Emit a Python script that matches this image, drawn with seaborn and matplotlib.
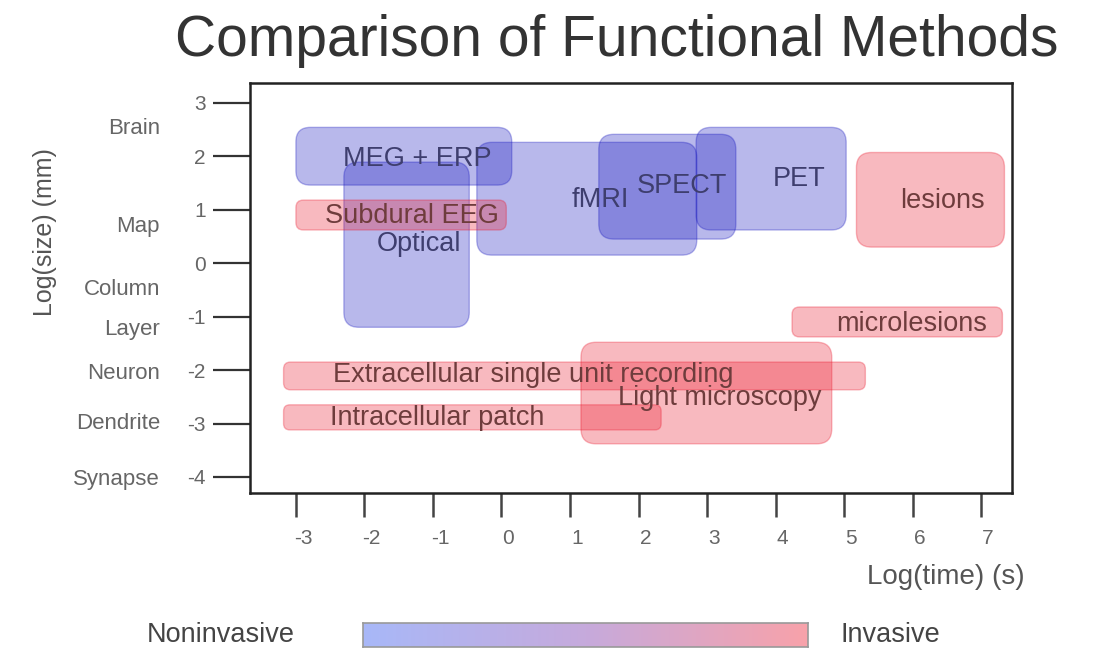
import numpy as np
import matplotlib
matplotlib.use("Agg")
import matplotlib.pyplot as plt
import matplotlib.transforms as mtransforms
import seaborn as sns
from matplotlib.patches import FancyBboxPatch

# ------------------------------------------------------------
# data (log10 time in s, log10 size in mm)
# ------------------------------------------------------------
methods = ["Extracellular single unit recording", "Intracellular patch",
           "Light microscopy", "microlesions", "lesions",
           "MEG + ERP", "Optical", "fMRI", "SPECT", "PET", "Subdural EEG"]
time_lo = [-3.18, -3.18, 1.16, 4.24, 5.18, -3.00, -2.30, -0.36, 1.42, 2.84, -3.00]
time_hi = [5.31, 2.33, 4.82, 7.31, 7.34, 0.15, -0.47, 2.85, 3.42, 5.03, 0.07]
size_lo = [-2.37, -3.12, -3.38, -1.38, 0.30, 1.46, -1.20, 0.15, 0.45, 0.62, 0.62]
size_hi = [-1.85, -2.65, -1.48, -0.82, 2.07, 2.54, 1.89, 2.26, 2.41, 2.54, 1.18]
invasive = [1, 1, 1, 1, 1, 0, 0, 0, 0, 0, 1]
label_x = [0.47, -0.94, 3.18, 5.98, 6.43, -1.23, -1.20, 1.44, 2.64, 4.34, -1.31]
label_y = [-2.10, -2.90, -2.53, -1.14, 1.16, 1.94, 0.36, 1.18, 1.44, 1.57, 0.88]

x_ticks = [-3, -2, -1, 0, 1, 2, 3, 4, 5, 6, 7]
y_ticks = [-4, -3, -2, -1, 0, 1, 2, 3]
scale_names = ["Brain", "Map", "Column", "Layer", "Neuron", "Dendrite", "Synapse"]
scale_pos = [2.52, 0.69, -0.49, -1.25, -2.07, -3.00, -4.05]

# ------------------------------------------------------------
sns.set_theme(style="white")
plt.rcParams["font.family"] = ["Liberation Sans", "DejaVu Sans"]

W, H = 1108, 660
fig = plt.figure(figsize=(W / 100, H / 100), dpi=100)
ax = fig.add_axes([250 / W, 1 - 493 / H, 762 / W, 410 / H])
ax.set_xlim(-3.67, 7.45)
ax.set_ylim(-4.3, 3.37)

fill = {0: (20 / 255, 20 / 255, 190 / 255), 1: (235 / 255, 25 / 255, 45 / 255)}
txtc = {0: "#3e3e6e", 1: "#6e3c3c"}

# px per data unit, so the corners come out round
p0 = ax.transData.transform((0, 0))
p1 = ax.transData.transform((1, 1))
sx, sy = p1[0] - p0[0], p1[1] - p0[1]

for i, name in enumerate(methods):
    x0, x1 = time_lo[i], time_hi[i]
    y0, y1 = size_lo[i], size_hi[i]
    r_px = min(15, 0.25 * (y1 - y0) * sy)
    c = fill[invasive[i]]
    box = FancyBboxPatch((x0, y0), x1 - x0, y1 - y0,
                         boxstyle=f"round,pad=0,rounding_size={r_px / sx}",
                         mutation_aspect=sx / sy,
                         facecolor=(*c, 0.30), edgecolor=(*c, 0.30), lw=1.0)
    ax.add_patch(box)

for i, name in enumerate(methods):
    ax.text(label_x[i], label_y[i], name, ha="center", va="center",
            fontsize=19.5, color=txtc[invasive[i]], zorder=5)

# axes styling
for s in ax.spines.values():
    s.set_color("#222222")
    s.set_linewidth(1.8)
ax.set_xticks(x_ticks)
ax.set_yticks(y_ticks)
ax.set_xticklabels([str(t) for t in x_ticks])
ax.set_yticklabels([str(t) for t in y_ticks])
ax.tick_params(axis="y", direction="out", length=27, width=1.6, color="#333333",
               pad=5, labelsize=15, labelcolor="#666666", left=True)
ax.tick_params(axis="x", direction="out", length=17, width=1.8, color="#444444",
               pad=9, labelsize=15, labelcolor="#666666", bottom=True)
shift = mtransforms.ScaledTranslation(7 / 100, 0, fig.dpi_scale_trans)
for lab in ax.get_xticklabels():
    lab.set_transform(lab.get_transform() + shift)

for name, y in zip(scale_names, scale_pos):
    ax.text(-90 / 762, y, name, transform=ax.get_yaxis_transform(),
            ha="right", va="center", fontsize=16, color="#666666")

fig.text(45 / W, 1 - 232 / H, "Log(size) (mm)", rotation=90, ha="center",
         va="center", fontsize=18, color="#555555")
fig.text(1025 / W, 1 - 577 / H, "Log(time) (s)", ha="right", va="center",
         fontsize=20, color="#555555")
fig.text(617 / W, 1 - 41 / H, "Comparison of Functional Methods", ha="center",
         va="center", fontsize=41, color="#333333")

# invasiveness gradient bar
cmap = sns.blend_palette(["#a8b8f8", "#c6aadc", "#f8a2aa"], as_cmap=True)
cax = fig.add_axes([363 / W, 1 - 647 / H, 445 / W, 24 / H])
cax.imshow(np.linspace(0, 1, 256)[None, :], aspect="auto", cmap=cmap)
cax.set_xticks([])
cax.set_yticks([])
for s in cax.spines.values():
    s.set_color("#999999")
    s.set_linewidth(1.2)
fig.text(221 / W, 1 - 635 / H, "Noninvasive", ha="center", va="center",
         fontsize=19.5, color="#444444")
fig.text(890 / W, 1 - 635 / H, "Invasive", ha="center", va="center",
         fontsize=19.5, color="#444444")

fig.savefig("out.png", dpi=100)
